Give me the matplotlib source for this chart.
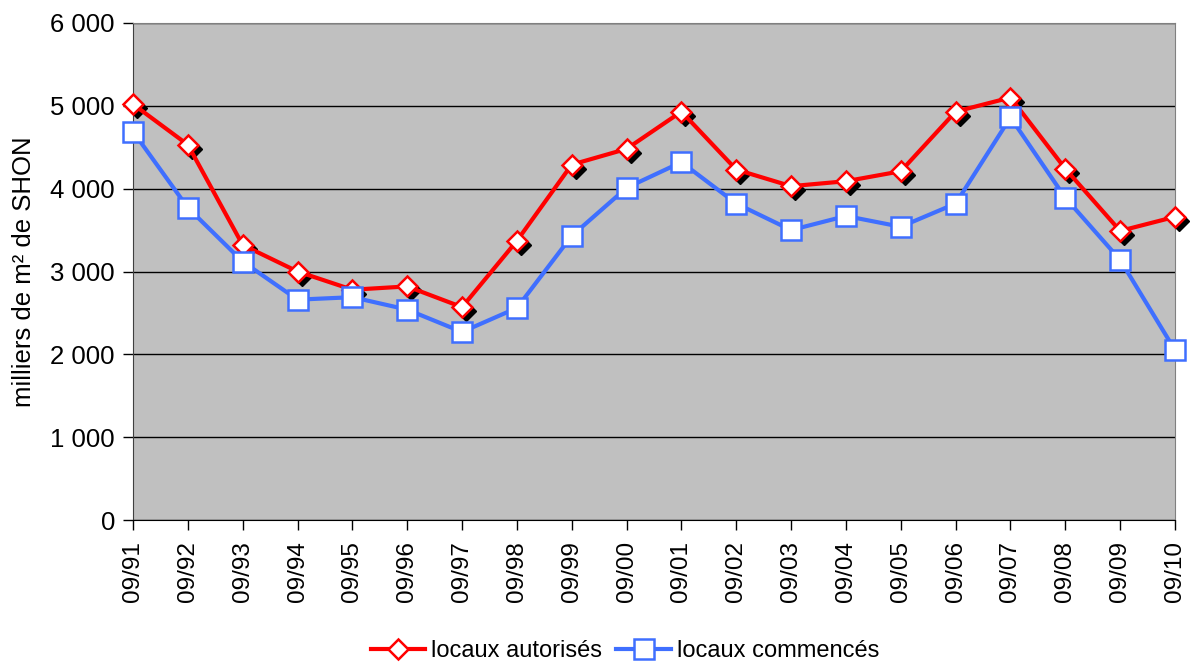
import matplotlib
matplotlib.use("Agg")
import matplotlib.pyplot as plt
import matplotlib.transforms as mtransforms
from matplotlib.ticker import FuncFormatter

categories = ["09/91", "09/92", "09/93", "09/94", "09/95", "09/96", "09/97", "09/98", "09/99", "09/00",
              "09/01", "09/02", "09/03", "09/04", "09/05", "09/06", "09/07", "09/08", "09/09", "09/10"]
autorises = [5020, 4530, 3320, 3000, 2780, 2820, 2570, 3370, 4290, 4480,
             4930, 4230, 4030, 4090, 4210, 4930, 5100, 4240, 3490, 3660]
commences = [4690, 3770, 3120, 2660, 2690, 2540, 2270, 2560, 3430, 4010,
             4320, 3820, 3500, 3670, 3540, 3820, 4860, 3890, 3140, 2050]

plt.rcParams['font.family'] = ['Liberation Sans', 'DejaVu Sans']

fig = plt.figure(figsize=(11.92, 6.64), dpi=100)
ax = fig.add_axes([133/1192, 1 - 520/664, (1175-133)/1192, (520-23)/664])
ax.set_facecolor('#C0C0C0')

x = list(range(len(categories)))
red = '#FF0000'
blue = '#3F6FFF'

# shadow for diamonds
shadow = ax.transData + mtransforms.ScaledTranslation(4/100, -4/100, fig.dpi_scale_trans)
ax.plot(x, autorises, linestyle='none', marker='D', markersize=10, color='black',
        transform=shadow, zorder=3, clip_on=False)
ax.plot(x, autorises, color=red, linewidth=3, marker='D', markersize=10,
        markerfacecolor='white', markeredgecolor=red, markeredgewidth=1.8,
        label='locaux autorisés', zorder=4, clip_on=False)
ax.plot(x, commences, color=blue, linewidth=3, marker='s', markersize=14,
        markerfacecolor='white', markeredgecolor=blue, markeredgewidth=1.8,
        label='locaux commencés', zorder=5, clip_on=False)

ax.set_xlim(0, len(categories) - 1)
ax.set_ylim(0, 6000)
ax.set_yticks(range(0, 6001, 1000))
ax.yaxis.set_major_formatter(FuncFormatter(lambda v, p: f"{int(v):,}".replace(",", " ")))
ax.set_xticks(x)
ax.set_xticklabels(categories, rotation=90)
ax.grid(axis='y', color='black', linewidth=1)
ax.set_axisbelow(True)

ax.tick_params(axis='both', direction='out', length=7, width=1, colors='black')
ax.tick_params(axis='x', pad=8, labelsize=17.5)
ax.tick_params(axis='y', pad=6, labelsize=18.5)
for s in ['top', 'right']:
    ax.spines[s].set_color('#808080')
ax.spines['left'].set_color('#404040')
ax.spines['bottom'].set_color('black')

ax.set_ylabel('milliers de m² de SHON', fontsize=18.5, labelpad=10)

leg = fig.legend(loc='center', bbox_to_anchor=(625/1192, 1 - 651/664), ncol=2,
                 frameon=False, fontsize=17, handlelength=2.3, handletextpad=0.25,
                 columnspacing=0.6)

fig.savefig('out.png', dpi=100)
